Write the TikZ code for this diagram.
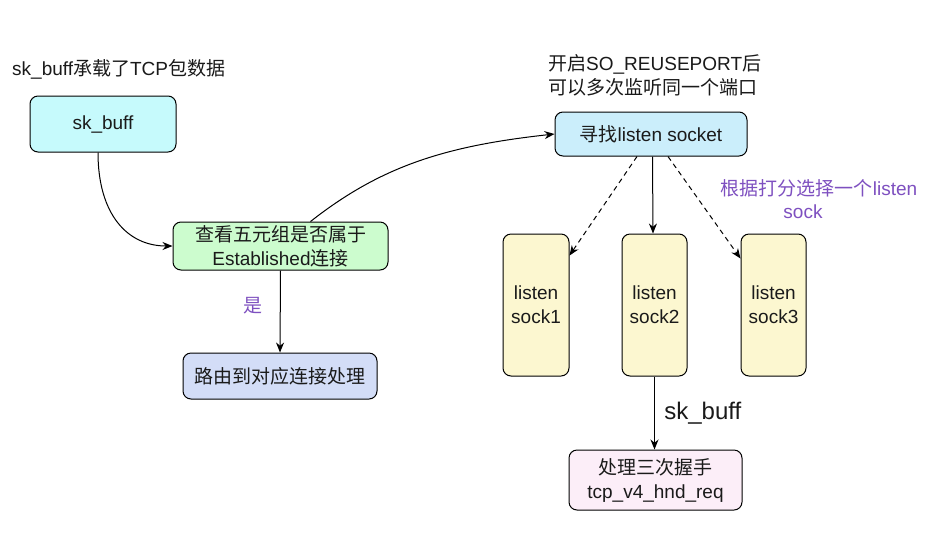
\documentclass[tikz,border=0pt]{standalone}
\usepackage{fontspec}
\setmainfont{Liberation Sans}
\newfontfamily\cjk{Noto Sans CJK SC}
\newcommand{\zhs}[1]{{\cjk #1}}
\usetikzlibrary{arrows.meta,calc}
\definecolor{txt}{HTML}{1A1A1A}
\definecolor{purp}{HTML}{7E50C0}
\definecolor{cyanf}{HTML}{C6FAFC}
\definecolor{greenf}{HTML}{CCFCCE}
\definecolor{bluef}{HTML}{D3DDF7}
\definecolor{findf}{HTML}{CBEEFB}
\definecolor{yelf}{HTML}{FCF7D0}
\definecolor{pinkf}{HTML}{FCEEF8}
\tikzset{
  every node/.style={font=\fontsize{19}{24}\selectfont, text=txt},
  box/.style={draw=black, line width=1pt, rounded corners=8pt, inner sep=0pt, align=center},
  conn/.style={line width=1pt, -{Stealth[length=10pt,width=8pt]}},
  dconn/.style={conn, dash pattern=on 5pt off 4pt},
  note/.style={text=purp}
}
\begin{document}
\begin{tikzpicture}[x=1pt,y=-1pt]
\useasboundingbox[fill=white] (0,0) rectangle (934,539);
% nodes
\node[box, fill=cyanf, minimum width=146pt, minimum height=56pt] (skb) at (103,124) {sk\_buff};
\node[box, fill=greenf, minimum width=215pt, minimum height=48pt] (est) at (280.5,246)
  {\zhs{查看五元组是否属于}\\Established\zhs{连接}};
\node[box, fill=bluef, minimum width=194pt, minimum height=46pt] (route) at (280,376) {\zhs{路由到对应连接处理}};
\node[box, fill=findf, minimum width=192pt, minimum height=44pt] (find) at (651,134) {\zhs{寻找}listen socket};
\node[box, fill=yelf, minimum width=66pt, minimum height=142pt] (s1) at (536,305) {listen\\sock1};
\node[box, fill=yelf, minimum width=65pt, minimum height=142pt] (s2) at (654.5,305) {listen\\sock2};
\node[box, fill=yelf, minimum width=65pt, minimum height=142pt] (s3) at (773.5,305) {listen\\sock3};
\node[box, fill=pinkf, minimum width=173pt, minimum height=60pt] (hs) at (655.5,480)
  {\zhs{处理三次握手}\\tcp\_v4\_hnd\_req};
% free texts
\node[anchor=west, inner sep=0pt] (t1) at (12,69) {sk\_buff\zhs{承载了}TCP\zhs{包数据}};
\node[anchor=west, inner sep=0pt, align=left] (t2) at (548,75)
  {\zhs{开启}SO\_REUSEPORT\zhs{后}\\\zhs{可以多次监听同一个端口}};
\node[note, inner sep=0pt] (t3) at (819,188) {\zhs{根据打分选择一个}listen};
\node[note, inner sep=0pt] (t4) at (803,212) {sock};
% connectors
\draw[conn] ([xshift=-5pt]skb.south) .. controls ($([xshift=-5pt]skb.south)+(0,62)$) and ($(est.west)+(-45,0)$) .. (est.west);
\draw[conn] ([xshift=30pt]est.north) .. controls ($([xshift=30pt]est.north)+(70,-55)$) and ($(find.west)+(-110,12)$) .. (find.west);
\draw[conn] (est.south) -- node[note, left=14pt, pos=0.43] (yes) {\zhs{是}} (route.north);
\draw[conn] ([xshift=1.5pt]find.south) -- ([xshift=-1.5pt]s2.north);
\draw[dconn] ([xshift=-14pt]find.south) -- ([yshift=-22pt]s1.north east);
\draw[dconn] ([xshift=17pt]find.south) -- ([yshift=-25pt]s3.north west);
\draw[conn] (s2.south) -- node[right=6pt, pos=0.5, font=\fontsize{24}{28}\selectfont] (lbl) {sk\_buff} (hs.north -| s2.south);
\end{tikzpicture}
\end{document}
